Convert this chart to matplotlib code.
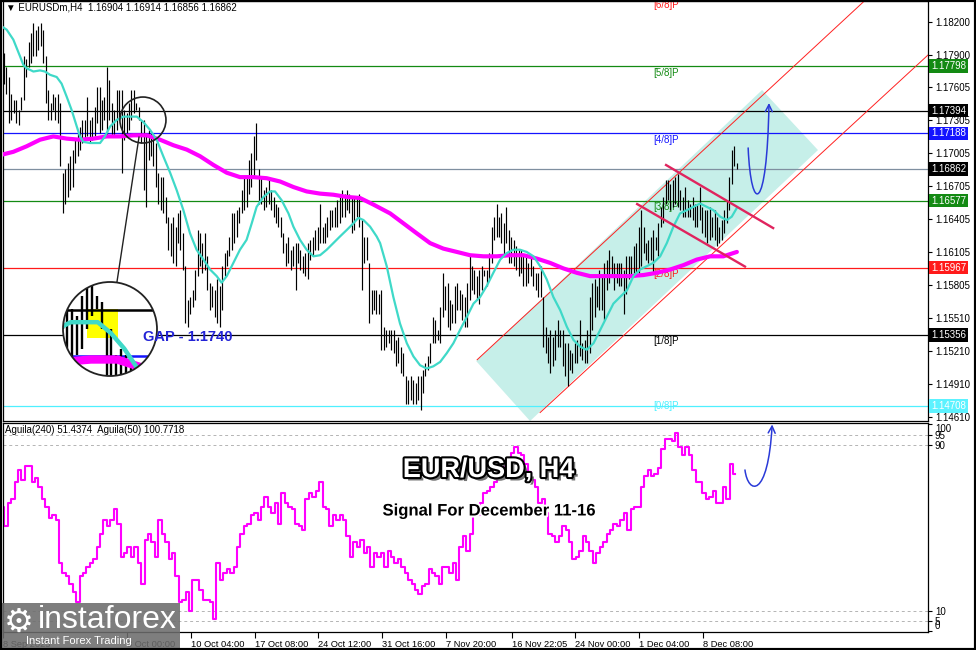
"""EURUSD H4 signal chart, redrawn from an MT4 screenshot."""
import numpy as np
import matplotlib
matplotlib.use("Agg")
import matplotlib.pyplot as plt
import matplotlib.patheffects as pe
from matplotlib import font_manager
from matplotlib.patches import Ellipse, Circle, Polygon, Rectangle, FancyArrowPatch, ConnectionPatch
from matplotlib.path import Path

plt.rcParams["font.family"] = ["Liberation Sans", "DejaVu Sans"]
plt.rcParams["font.size"] = 7

# -------------------------------------------------------
# Data.
# -------------------------------------------------------
# H4 bar highs / lows (one entry per bar, left to right)
highs = [
    1.1792, 1.1779, 1.1770, 1.1755, 1.1749, 1.1749, 1.1740, 1.1752, 1.1789, 1.1786,
    1.1802, 1.1810, 1.1819, 1.1813, 1.1816, 1.1819, 1.1813, 1.1789, 1.1758, 1.1746,
    1.1755, 1.1752, 1.1755, 1.1746, 1.1683, 1.1686, 1.1692, 1.1698, 1.1704, 1.1713,
    1.1719, 1.1725, 1.1731, 1.1731, 1.1752, 1.1731, 1.1734, 1.1743, 1.1761, 1.1761,
    1.1749, 1.1752, 1.1779, 1.1767, 1.1746, 1.1740, 1.1758, 1.1758, 1.1758, 1.1740,
    1.1737, 1.1746, 1.1758, 1.1758, 1.1746, 1.1743, 1.1731, 1.1731, 1.1719, 1.1722,
    1.1719, 1.1716, 1.1710, 1.1683, 1.1679, 1.1679, 1.1661, 1.1643, 1.1637, 1.1643,
    1.1634, 1.1646, 1.1649, 1.1628, 1.1598, 1.1567, 1.1570, 1.1576, 1.1595, 1.1631,
    1.1628, 1.1619, 1.1628, 1.1607, 1.1583, 1.1580, 1.1576, 1.1586, 1.1580, 1.1598,
    1.1610, 1.1613, 1.1625, 1.1646, 1.1646, 1.1649, 1.1652, 1.1667, 1.1679, 1.1679,
    1.1695, 1.1701, 1.1716, 1.1728, 1.1686, 1.1679, 1.1667, 1.1670, 1.1676, 1.1667,
    1.1661, 1.1655, 1.1652, 1.1643, 1.1628, 1.1619, 1.1625, 1.1613, 1.1616, 1.1619,
    1.1619, 1.1613, 1.1607, 1.1610, 1.1619, 1.1622, 1.1625, 1.1631, 1.1634, 1.1655,
    1.1634, 1.1637, 1.1643, 1.1649, 1.1649, 1.1652, 1.1658, 1.1664, 1.1667, 1.1664,
    1.1667, 1.1664, 1.1661, 1.1661, 1.1661, 1.1664, 1.1640, 1.1625, 1.1625, 1.1601,
    1.1576, 1.1576, 1.1576, 1.1573, 1.1576, 1.1543, 1.1540, 1.1540, 1.1540, 1.1540,
    1.1531, 1.1534, 1.1525, 1.1519, 1.1498, 1.1495, 1.1498, 1.1495, 1.1492, 1.1498,
    1.1498, 1.1504, 1.1510, 1.1516, 1.1528, 1.1552, 1.1549, 1.1540, 1.1561, 1.1592,
    1.1580, 1.1583, 1.1567, 1.1564, 1.1580, 1.1583, 1.1576, 1.1573, 1.1570, 1.1583,
    1.1607, 1.1598, 1.1595, 1.1589, 1.1595, 1.1598, 1.1595, 1.1595, 1.1610, 1.1634,
    1.1643, 1.1655, 1.1643, 1.1646, 1.1637, 1.1652, 1.1631, 1.1625, 1.1622, 1.1616,
    1.1613, 1.1613, 1.1607, 1.1607, 1.1601, 1.1607, 1.1598, 1.1592, 1.1592, 1.1598,
    1.1570, 1.1543, 1.1534, 1.1540, 1.1534, 1.1540, 1.1549, 1.1540, 1.1540, 1.1528,
    1.1528, 1.1522, 1.1519, 1.1528, 1.1531, 1.1549, 1.1528, 1.1531, 1.1540, 1.1570,
    1.1583, 1.1586, 1.1580, 1.1595, 1.1589, 1.1601, 1.1604, 1.1613, 1.1607, 1.1601,
    1.1601, 1.1601, 1.1601, 1.1595, 1.1607, 1.1607, 1.1607, 1.1616, 1.1619, 1.1634,
    1.1649, 1.1634, 1.1619, 1.1622, 1.1625, 1.1631, 1.1625, 1.1637, 1.1652, 1.1661,
    1.1676, 1.1676, 1.1673, 1.1676, 1.1679, 1.1682, 1.1667, 1.1661, 1.1670, 1.1658,
    1.1655, 1.1661, 1.1655, 1.1655, 1.1670, 1.1652, 1.1649, 1.1649, 1.1652, 1.1643,
    1.1649, 1.1643, 1.1634, 1.1640, 1.1649, 1.1658, 1.1679, 1.1704, 1.1707, 1.1692,
]
lows = [
    1.1764, 1.1755, 1.1728, 1.1731, 1.1737, 1.1728, 1.1726, 1.1740, 1.1749, 1.1770,
    1.1779, 1.1783, 1.1789, 1.1789, 1.1795, 1.1798, 1.1783, 1.1746, 1.1731, 1.1731,
    1.1740, 1.1731, 1.1728, 1.1689, 1.1646, 1.1655, 1.1661, 1.1667, 1.1670, 1.1692,
    1.1698, 1.1704, 1.1710, 1.1713, 1.1716, 1.1710, 1.1713, 1.1716, 1.1728, 1.1719,
    1.1722, 1.1731, 1.1716, 1.1731, 1.1716, 1.1716, 1.1722, 1.1731, 1.1683, 1.1713,
    1.1719, 1.1722, 1.1731, 1.1737, 1.1740, 1.1731, 1.1710, 1.1667, 1.1652, 1.1695,
    1.1698, 1.1689, 1.1670, 1.1655, 1.1649, 1.1646, 1.1637, 1.1613, 1.1607, 1.1601,
    1.1598, 1.1619, 1.1613, 1.1595, 1.1546, 1.1543, 1.1555, 1.1561, 1.1567, 1.1589,
    1.1598, 1.1592, 1.1595, 1.1576, 1.1558, 1.1561, 1.1552, 1.1546, 1.1543, 1.1558,
    1.1589, 1.1598, 1.1607, 1.1613, 1.1619, 1.1625, 1.1637, 1.1646, 1.1649, 1.1652,
    1.1664, 1.1670, 1.1679, 1.1695, 1.1655, 1.1655, 1.1649, 1.1652, 1.1655, 1.1649,
    1.1643, 1.1637, 1.1634, 1.1625, 1.1610, 1.1598, 1.1601, 1.1595, 1.1598, 1.1576,
    1.1601, 1.1595, 1.1592, 1.1589, 1.1586, 1.1604, 1.1607, 1.1613, 1.1613, 1.1619,
    1.1619, 1.1619, 1.1625, 1.1631, 1.1634, 1.1634, 1.1634, 1.1637, 1.1643, 1.1643,
    1.1649, 1.1646, 1.1628, 1.1631, 1.1643, 1.1634, 1.1576, 1.1601, 1.1604, 1.1546,
    1.1555, 1.1558, 1.1555, 1.1555, 1.1522, 1.1522, 1.1525, 1.1528, 1.1522, 1.1519,
    1.1507, 1.1510, 1.1501, 1.1498, 1.1473, 1.1473, 1.1476, 1.1473, 1.1473, 1.1476,
    1.1467, 1.1483, 1.1498, 1.1504, 1.1510, 1.1528, 1.1528, 1.1531, 1.1528, 1.1552,
    1.1558, 1.1543, 1.1540, 1.1546, 1.1546, 1.1558, 1.1558, 1.1549, 1.1543, 1.1543,
    1.1567, 1.1576, 1.1573, 1.1567, 1.1564, 1.1576, 1.1589, 1.1580, 1.1586, 1.1601,
    1.1622, 1.1625, 1.1625, 1.1619, 1.1607, 1.1619, 1.1601, 1.1601, 1.1598, 1.1595,
    1.1589, 1.1592, 1.1580, 1.1580, 1.1583, 1.1589, 1.1580, 1.1576, 1.1570, 1.1570,
    1.1525, 1.1519, 1.1510, 1.1501, 1.1507, 1.1513, 1.1525, 1.1525, 1.1507, 1.1498,
    1.1489, 1.1504, 1.1501, 1.1510, 1.1510, 1.1516, 1.1513, 1.1510, 1.1510, 1.1519,
    1.1540, 1.1552, 1.1561, 1.1558, 1.1558, 1.1549, 1.1576, 1.1583, 1.1589, 1.1576,
    1.1583, 1.1580, 1.1580, 1.1555, 1.1573, 1.1586, 1.1589, 1.1592, 1.1589, 1.1592,
    1.1598, 1.1610, 1.1604, 1.1601, 1.1604, 1.1592, 1.1613, 1.1607, 1.1634, 1.1637,
    1.1655, 1.1658, 1.1649, 1.1652, 1.1655, 1.1652, 1.1649, 1.1643, 1.1643, 1.1643,
    1.1643, 1.1640, 1.1634, 1.1634, 1.1640, 1.1628, 1.1625, 1.1619, 1.1622, 1.1625,
    1.1622, 1.1616, 1.1619, 1.1622, 1.1628, 1.1637, 1.1649, 1.1673, 1.1689, 1.1686,
]

# fast moving average (turquoise)
fast_bar = [
    -1.6, 1.1, 3.8, 6.5, 7.9, 9.2, 12.0, 14.7, 16.7, 18.8, 21.5, 23.5, 25.6, 27.6,
    29.7, 31.0, 32.4, 35.1, 39.2, 41.2, 43.3, 46.0, 48.7, 52.1, 54.2, 56.9, 59.6,
    62.3, 65.0, 67.8, 70.5, 73.2, 75.9, 78.6, 81.4, 84.1, 86.8, 88.8, 90.9, 93.6,
    96.3, 99.0, 101.1, 103.1, 105.9, 108.6, 110.6, 113.3, 116.1, 118.1, 120.8,
    123.5, 126.3, 129.0, 131.7, 134.4, 137.1, 139.9, 142.6, 144.6, 146.7, 149.4,
    152.1, 153.5, 156.2, 158.9, 161.6, 164.4, 167.1, 169.8, 172.5, 175.2, 178.0,
    180.7, 183.4, 186.1, 188.9, 191.6, 194.3, 197.0, 199.7, 202.5, 205.2, 207.9,
    210.6, 213.3, 216.1, 218.8, 221.5, 224.2, 227.0, 229.7, 232.4, 235.1, 237.8,
    240.6, 243.3, 246.0, 248.7, 251.4, 254.2, 256.9, 259.6, 262.3, 265.0, 267.8,
    270.5, 273.2, 275.9, 278.7, 281.4, 284.1, 286.8, 289.5, 292.3, 295.0, 297.0,
    299.1,
]
fast_ma = [
    1.1817, 1.1813, 1.1804, 1.1789, 1.1781, 1.1778, 1.1775, 1.1776, 1.1775, 1.1772,
    1.1770, 1.1764, 1.1752, 1.1740, 1.1725, 1.1716, 1.1711, 1.1710, 1.1710, 1.1716,
    1.1725, 1.1731, 1.1734, 1.1734, 1.1734, 1.1729, 1.1722, 1.1713, 1.1698, 1.1683,
    1.1667, 1.1649, 1.1628, 1.1613, 1.1604, 1.1595, 1.1589, 1.1583, 1.1589, 1.1601,
    1.1613, 1.1622, 1.1637, 1.1652, 1.1661, 1.1666, 1.1666, 1.1658, 1.1646, 1.1634,
    1.1622, 1.1613, 1.1607, 1.1608, 1.1613, 1.1619, 1.1625, 1.1631, 1.1637, 1.1642,
    1.1640, 1.1634, 1.1625, 1.1619, 1.1598, 1.1570, 1.1546, 1.1528, 1.1516, 1.1508,
    1.1505, 1.1507, 1.1511, 1.1519, 1.1528, 1.1540, 1.1552, 1.1564, 1.1570, 1.1580,
    1.1592, 1.1604, 1.1610, 1.1613, 1.1613, 1.1611, 1.1607, 1.1598, 1.1586, 1.1570,
    1.1558, 1.1543, 1.1531, 1.1525, 1.1522, 1.1528, 1.1540, 1.1552, 1.1564, 1.1570,
    1.1576, 1.1589, 1.1595, 1.1598, 1.1601, 1.1607, 1.1619, 1.1634, 1.1646, 1.1649,
    1.1652, 1.1655, 1.1652, 1.1649, 1.1643, 1.1640, 1.1643, 1.1651,
]

# slow moving average (thick magenta)
slow_bar = [
    -1.6, 3.8, 9.2, 14.7, 20.1, 25.6, 31.0, 36.5, 41.9, 47.3, 52.8, 58.2, 63.7,
    69.1, 74.6, 80.0, 85.5, 90.9, 96.3, 101.8, 107.2, 112.7, 118.1, 123.5, 129.0,
    134.4, 139.9, 145.3, 150.8, 157.6, 163.0, 168.4, 173.9, 179.3, 184.8, 190.2,
    195.7, 201.1, 206.5, 212.0, 217.4, 222.9, 228.3, 233.8, 239.2, 244.6, 250.1,
    255.5, 261.0, 266.4, 271.9, 277.3, 282.7, 288.2, 293.6, 299.1,
]
slow_ma = [
    1.1699, 1.1702, 1.1707, 1.1713, 1.1716, 1.1714, 1.1713, 1.1714, 1.1716, 1.1716,
    1.1717, 1.1717, 1.1713, 1.1708, 1.1704, 1.1698, 1.1690, 1.1683, 1.1679, 1.1679,
    1.1678, 1.1675, 1.1670, 1.1666, 1.1664, 1.1663, 1.1661, 1.1660, 1.1654, 1.1646,
    1.1637, 1.1628, 1.1619, 1.1614, 1.1611, 1.1608, 1.1607, 1.1607, 1.1608, 1.1608,
    1.1605, 1.1601, 1.1596, 1.1592, 1.1589, 1.1589, 1.1589, 1.1589, 1.1590, 1.1592,
    1.1595, 1.1599, 1.1604, 1.1607, 1.1607, 1.1611,
]

# Aguila(50) oscillator, lower window
aguila = [
    60, 51, 62, 64, 72, 78, 73, 80, 80, 72, 74, 70, 64, 60, 55, 56, 54, 33, 28, 27,
    23, 19, 14, 27, 28, 31, 33, 35, 41, 47, 54, 51, 54, 59, 52, 36, 38, 41, 36, 41,
    33, 23, 44, 47, 43, 36, 54, 47, 43, 35, 38, 27, 14, 15, 19, 10, 25, 25, 20, 15,
    15, 14, 6, 33, 25, 28, 30, 28, 31, 41, 47, 51, 52, 56, 57, 54, 60, 65, 60, 57,
    62, 52, 67, 62, 60, 59, 52, 51, 49, 64, 67, 65, 68, 72, 60, 59, 51, 56, 54, 56,
    54, 46, 36, 43, 41, 44, 38, 41, 31, 38, 36, 38, 31, 39, 36, 33, 35, 31, 28, 25,
    23, 20, 18, 22, 23, 30, 28, 27, 23, 31, 31, 28, 33, 25, 41, 46, 39, 47, 57, 56,
    62, 67, 68, 70, 72, 76, 77, 80, 83, 86, 89, 86, 85, 81, 77, 73, 70, 62, 64, 57,
    47, 46, 43, 46, 51, 49, 43, 35, 36, 39, 46, 43, 39, 33, 38, 41, 43, 47, 49, 52,
    51, 54, 57, 49, 59, 60, 60, 70, 75, 78, 75, 76, 79, 88, 93, 93, 92, 96, 89, 85,
    89, 85, 78, 72, 72, 67, 64, 65, 68, 62, 62, 70, 64, 81, 76,
]
aguila_span = (-0.6, 298.3)  # first / last bar of the oscillator trace

# horizontal levels with their price-scale boxes
level_prices = [1.17798, 1.17394, 1.17188, 1.16862, 1.16577, 1.15967, 1.15356, 1.14708]
level_colors = ["#138a13", "#000000", "#1414ff", "#7f8fa0", "#138a13", "#ff1a1a", "#000000", "#4ff0ff"]
box_colors = ["#138a13", "#000000", "#1414ff", "#000000", "#138a13", "#ff1a1a", "#000000", "#5cf2ff"]

# Murrey math labels
mm_names = ["[6/8]P", "[5/8]P", "[4/8]P", "[3/8]P", "[2/8]P", "[1/8]P", "[0/8]P"]
mm_prices = [1.18409, 1.17798, 1.17188, 1.16577, 1.15967, 1.15356, 1.14708]
mm_colors = ["#ff1a1a", "#138a13", "#1414ff", "#138a13", "#ff1a1a", "#000000", "#4ff0ff"]

price_ticks = [1.18200, 1.17900, 1.17605, 1.17305, 1.17005, 1.16705, 1.16405,
               1.16105, 1.15805, 1.15510, 1.15210, 1.14910, 1.14610]
osc_levels = [0, 5, 10, 90, 95, 100]

time_ticks = [-0.4, 50.2, 76.3, 102.4, 128.0, 154.3, 180.4, 207.3, 233.0, 259.2, 285.3]
time_labels = ["8 Sep 2025", "3 Oct 00:00", "10 Oct 04:00", "17 Oct 08:00",
               "24 Oct 12:00", "31 Oct 16:00", "7 Nov 20:00", "16 Nov 22:05",
               "24 Nov 00:00", "1 Dec 04:00", "8 Dec 08:00"]

# -------------------------------------------------------
# Plot.
# -------------------------------------------------------
names = {f.name for f in font_manager.fontManager.ttflist}
narrow = "Liberation Sans Narrow" in names

W, H = 976.0, 650.0
fig = plt.figure(figsize=(W / 100, H / 100), dpi=100)
fig.patch.set_facecolor("white")
ax = fig.add_axes([3 / W, 229 / H, 925 / W, 420 / H])
ax2 = fig.add_axes([3 / W, 18 / H, 925 / W, 209 / H])

bars = np.arange(len(highs))
xlim = (-0.41, 377.1)


def draw_prices(a, scale=1.0):
    for p, c in zip(level_prices, level_colors):
        a.axhline(p, color=c, lw=0.9 * scale, zorder=2)
    a.vlines(bars, lows, highs, color="black", lw=0.85 * scale, zorder=4)
    a.plot(slow_bar, slow_ma, color="#ff00ff", lw=3.0 * scale,
           solid_capstyle="round", zorder=5)
    a.plot(fast_bar, fast_ma, color="#3fd9c8", lw=1.6 * scale, zorder=5)


# ascending channel, shaded between the two red lines
ax.add_patch(Polygon([(192.7, 1.15118), (214.7, 1.14573), (332.2, 1.17036), (309.4, 1.17582)],
                     closed=True, fc="#c6efe9", ec="none", zorder=1))
ax.plot([193.1, 353.5], [1.1513, 1.1844], color="#ff2020", lw=0.7, zorder=3)
ax.plot([218.8, 377.1], [1.1465, 1.1790], color="#ff2020", lw=0.7, zorder=3)

draw_prices(ax)

# descending flag
ax.plot([270.2, 313.9], [1.1690, 1.16327], color="#e0245e", lw=1.7, zorder=6)
ax.plot([258.4, 302.4], [1.16545, 1.15977], color="#e0245e", lw=1.7, zorder=6)

# projected move
arrow_path = Path([(303.7, 1.17055), (304.9, 1.16445), (311.4, 1.16445), (312.2, 1.17464)],
                  [Path.MOVETO, Path.CURVE4, Path.CURVE4, Path.CURVE4])
ax.add_patch(FancyArrowPatch(path=arrow_path, arrowstyle="->,head_length=5,head_width=2.5",
                             color="#2a3ad8", lw=1.1, zorder=7))

for name, p, c in zip(mm_names, mm_prices, mm_colors):
    dy = 4 if name == "[0/8]P" else -1
    ax.annotate(name, (265.0, p), xytext=(0, dy), textcoords="offset points",
                color=c, va="top", ha="left", fontsize=7, zorder=3, annotation_clip=False)

ax.text(0.003, 0.997, "\u25bc EURUSDm,H4  1.16904 1.16914 1.16856 1.16862",
        transform=ax.transAxes, va="top", ha="left", fontsize=7)

# gap marker
ax.add_patch(Ellipse((56.7, 1.17309), 18.8, 0.00418, fill=False, ec="#222222", lw=1.2, zorder=8))

ax.set_xlim(*xlim)
ax.set_ylim(1.14573, 1.18391)
ax.set_xticks([])
ax.yaxis.tick_right()
ax.set_yticks(price_ticks)
ax.set_yticklabels(["%.5f" % t for t in price_ticks])
ax.tick_params(axis="y", direction="out", length=3, pad=2, labelsize=7)
for p, c in zip(level_prices, box_colors):
    ax.text(1.0035, p, "%.5f" % p, transform=ax.get_yaxis_transform(), va="center",
            ha="left", color="white", fontsize=7, clip_on=False, zorder=10,
            bbox=dict(boxstyle="square,pad=0.18", fc=c, ec="none"))
for s in ax.spines.values():
    s.set_color("black")
    s.set_linewidth(0.9)

# -------------------------------------------------------
# Oscillator window.
# -------------------------------------------------------
agu_x = np.linspace(aguila_span[0], aguila_span[1], len(aguila))
for lv in [5, 10, 90, 95]:
    ax2.axhline(lv, color="#b4b4b4", lw=0.7, ls=(0, (3, 3)))
ax2.plot(agu_x, aguila, color="#ff00ff", lw=1.5, drawstyle="steps-mid")
osc_path = Path([(302.4, 78), (303.7, 66), (311.8, 64), (313.5, 100)],
                [Path.MOVETO, Path.CURVE4, Path.CURVE4, Path.CURVE4])
ax2.add_patch(FancyArrowPatch(path=osc_path, arrowstyle="->,head_length=5,head_width=2.5",
                              color="#2a3ad8", lw=1.1, clip_on=False, zorder=7))
ax2.text(0.002, 0.99, "Aguila(240) 51.4374  Aguila(50) 100.7718",
         transform=ax2.transAxes, va="top", ha="left", fontsize=7)

title_font = ["Liberation Sans Narrow", "Liberation Sans"] if narrow else ["Liberation Sans"]
ax2.text(0.525, 0.775, "EUR/USD, H4", transform=ax2.transAxes, ha="center", va="center",
         family=title_font, fontsize=23 if narrow else 19.5, fontweight="bold", color="white",
         path_effects=[pe.withSimplePatchShadow(offset=(2.5, -2.5), shadow_rgbFace="#666666", alpha=0.9),
                       pe.withStroke(linewidth=3, foreground="black")])
ax2.text(0.525, 0.579, "Signal For December 11-16", transform=ax2.transAxes, ha="center",
         va="center", family=title_font, fontsize=14.5 if narrow else 12, fontweight="bold",
         color="black", path_effects=[pe.withStroke(linewidth=3, foreground="white")])

ax2.set_xlim(*xlim)
ax2.set_ylim(-0.3, 100.7)
ax2.yaxis.tick_right()
ax2.set_yticks(osc_levels)
ax2.set_yticklabels(["0", "5", "10", "90", "95", "100"])
ax2.tick_params(axis="y", direction="out", length=3, pad=2, labelsize=7)
ylabels = ax2.get_yticklabels()
ylabels[0].set_va("bottom")
ylabels[-1].set_va("top")
ax2.set_xticks(time_ticks)
ax2.set_xticklabels(time_labels)
ax2.tick_params(axis="x", direction="out", length=4, pad=2, labelsize=6.7)
plt.setp(ax2.get_xticklabels(), ha="left")
for s in ax2.spines.values():
    s.set_color("black")
    s.set_linewidth(0.9)

# -------------------------------------------------------
# Magnified inset of the gap.
# -------------------------------------------------------
axin = fig.add_axes([63 / W, (H - 376) / H, 94 / W, 94 / H])
axin.set_axis_off()
axin.add_patch(Circle((0.5, 0.5), 0.5, transform=axin.transAxes, fc="white", ec="none", zorder=0))
axin.add_patch(Rectangle((52.0, 1.1727), 6.3, 0.0013, fc="#ffff00", ec="none", zorder=1))
draw_prices(axin, scale=2.0)
axin.set_xlim(47.1, 66.3)
axin.set_ylim(1.17095, 1.17523)
clip = Circle((0.5, 0.5), 0.5, transform=axin.transAxes)
for art in axin.lines + axin.collections + axin.patches:
    art.set_clip_path(clip)
axin.add_patch(Circle((0.5, 0.5), 0.5, transform=axin.transAxes, fill=False,
                      ec="#222222", lw=1.3, zorder=10, clip_on=False))
fig.add_artist(ConnectionPatch(xyA=(55.1, 1.17155), coordsA=ax.transData,
                               xyB=(0.574, 1.0), coordsB=axin.transAxes,
                               color="#222222", lw=1.0))

# gap label sits on top of the inset circle
fig.text(56.7, 1.15336, "GAP - 1.1740", transform=ax.transData, color="#2323d6",
         fontsize=10.5, fontweight="bold", va="center", ha="left", zorder=12)

# -------------------------------------------------------
# Watermark and frame.
# -------------------------------------------------------
fig.add_artist(Rectangle((0, 0), 180 / W, 47 / H, transform=fig.transFigure,
                         fc="#6c6c6c", ec="none", alpha=0.88, zorder=10))
fig.text(4 / W, 1 - 622 / H, "\u2699", family="DejaVu Sans", fontsize=24,
         color="white", va="center", ha="left", zorder=11)
fig.text(38 / W, 1 - 620 / H, "instaforex", fontsize=23, color="white",
         va="center", ha="left", zorder=11)
fig.text(26 / W, 1 - 641 / H, "Instant Forex Trading", fontsize=8, color="white",
         va="center", ha="left", zorder=11)
fig.add_artist(Rectangle((0, 0), 1, 1, transform=fig.transFigure, fill=False,
                         ec="black", lw=3, zorder=20))

fig.savefig("out.png", dpi=100, facecolor="white")
